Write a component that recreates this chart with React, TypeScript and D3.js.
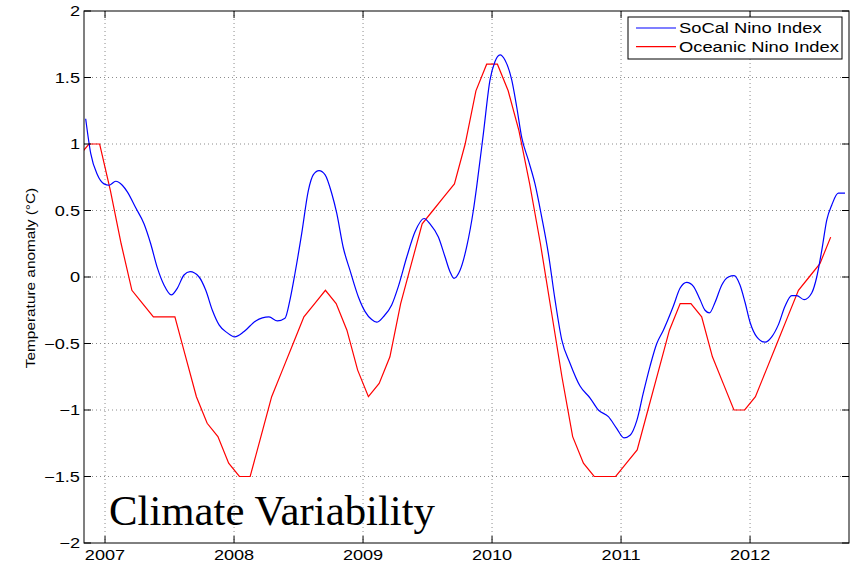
import * as d3 from "d3";

// SoCal Nino Index (smooth curve)
const socalDates = [
  2006.85, 2006.889, 2006.94, 2006.992, 2007.031, 2007.083, 2007.134, 2007.173, 2007.238, 2007.302,
  2007.354, 2007.405, 2007.457, 2007.514, 2007.56, 2007.612, 2007.659, 2007.729, 2007.781, 2007.832,
  2007.884, 2007.948, 2008.005, 2008.078, 2008.168, 2008.271, 2008.336, 2008.395, 2008.434, 2008.473,
  2008.525, 2008.576, 2008.615, 2008.659, 2008.705, 2008.757, 2008.796, 2008.847, 2008.899, 2008.964,
  2009.016, 2009.067, 2009.106, 2009.157, 2009.222, 2009.274, 2009.339, 2009.403, 2009.473, 2009.519,
  2009.584, 2009.636, 2009.674, 2009.705, 2009.752, 2009.804, 2009.855, 2009.881, 2009.933, 2009.984,
  2010.023, 2010.062, 2010.101, 2010.153, 2010.191, 2010.23, 2010.281, 2010.333, 2010.385, 2010.436,
  2010.488, 2010.54, 2010.605, 2010.682, 2010.76, 2010.824, 2010.902, 2010.967, 2011.023, 2011.07,
  2011.122, 2011.173, 2011.225, 2011.277, 2011.328, 2011.405, 2011.457, 2011.509, 2011.561, 2011.612,
  2011.651, 2011.685, 2011.729, 2011.781, 2011.832, 2011.876, 2011.922, 2011.961, 2012.0, 2012.052,
  2012.116, 2012.168, 2012.219, 2012.271, 2012.323, 2012.362, 2012.419, 2012.478, 2012.517, 2012.556,
  2012.595, 2012.633, 2012.684, 2012.736,
];
const socalValues = [
  1.19, 0.93, 0.77, 0.7, 0.69, 0.72, 0.69, 0.64, 0.52, 0.4,
  0.25, 0.07, -0.06, -0.135, -0.085, 0.015, 0.04, 0.0, -0.1, -0.25,
  -0.36, -0.42, -0.45, -0.41, -0.33, -0.3, -0.33, -0.31, -0.17, 0.03,
  0.33, 0.65, 0.77, 0.8, 0.77, 0.63, 0.48, 0.22, 0.05, -0.15,
  -0.26, -0.32, -0.34, -0.3, -0.21, -0.07, 0.15, 0.34, 0.44, 0.4,
  0.3, 0.15, 0.04, -0.01, 0.05, 0.23, 0.5, 0.68, 1.08, 1.48,
  1.62, 1.67, 1.63, 1.48, 1.28, 1.05, 0.88, 0.7, 0.45, 0.18,
  -0.17, -0.47, -0.65, -0.82, -0.91, -1.0, -1.05, -1.14, -1.21, -1.19,
  -1.08, -0.87, -0.67, -0.5, -0.4, -0.22, -0.085, -0.04, -0.07, -0.17,
  -0.25, -0.27, -0.19, -0.06, 0.0, 0.01, -0.06, -0.19, -0.34, -0.45,
  -0.49, -0.45, -0.36, -0.22, -0.14, -0.14, -0.17, -0.12, 0.0, 0.2,
  0.43, 0.54, 0.63, 0.63,
];

// Oceanic Nino Index, monthly from Oct 2006 to Jul 2012
const oniFirstMonth = { year: 2006, month: 10 };
const oniValues = [
  0.9, 1.0, 1.0, 0.65, 0.25, -0.1, -0.2, -0.3, -0.3, -0.3,
  -0.6, -0.9, -1.1, -1.2, -1.4, -1.5, -1.5, -1.2, -0.9, -0.7,
  -0.5, -0.3, -0.2, -0.1, -0.2, -0.4, -0.7, -0.9, -0.8, -0.6,
  -0.2, 0.1, 0.4, 0.5, 0.6, 0.7, 1.0, 1.4, 1.6, 1.6,
  1.4, 1.1, 0.7, 0.25, -0.25, -0.75, -1.2, -1.4, -1.5, -1.5,
  -1.5, -1.4, -1.3, -1.0, -0.7, -0.4, -0.2, -0.2, -0.3, -0.6,
  -0.8, -1.0, -1.0, -0.9, -0.7, -0.5, -0.3, -0.1, 0.0, 0.1,
  0.3,
];

const xTicks = [2007, 2008, 2009, 2010, 2011, 2012];
const yTicks = [-2, -1.5, -1, -0.5, 0, 0.5, 1, 1.5, 2];
const legendLabels = ["SoCal Nino Index", "Oceanic Nino Index"];
const seriesColors = ["#0000ff", "#ff0000"];

const fmtY = (v: number) => (v < 0 ? "\u2212" + String(-v) : String(v));

export default function App() {
  const W = 858;
  const H = 567;
  const left = 84;
  const right = 849;
  const top = 11;
  const bottom = 543;
  const tick = 7;
  const sans = '"Liberation Sans", Arial, Helvetica, sans-serif';

  const x = d3.scaleLinear().domain([2006.837, 2012.767]).range([left, right]);
  const y = d3.scaleLinear().domain([-2, 2]).range([bottom, top]);

  const socal = socalDates.map((d, i) => [d, socalValues[i]] as [number, number]);
  const oni = oniValues.map(
    (v, i) => [oniFirstMonth.year + (oniFirstMonth.month - 1 + i + 0.5) / 12, v] as [number, number]
  );

  const smooth = d3
    .line<[number, number]>()
    .x((d) => x(d[0]))
    .y((d) => y(d[1]))
    .curve(d3.curveMonotoneX);
  const straight = d3
    .line<[number, number]>()
    .x((d) => x(d[0]))
    .y((d) => y(d[1]));

  return (
    <svg
      width={W}
      height={H}
      style={{ position: "fixed", left: 0, top: 0, background: "white" }}
    >
      <defs>
        <clipPath id="plot">
          <rect x={left} y={top} width={right - left} height={bottom - top} />
        </clipPath>
      </defs>
      <rect x={0} y={0} width={W} height={H} fill="white" />

      {/* grid */}
      {xTicks.map((t) => (
        <line
          key={"gx" + t}
          x1={x(t)}
          x2={x(t)}
          y1={top}
          y2={bottom}
          stroke="#8c8c8c"
          strokeWidth={1}
          strokeDasharray="1,3"
        />
      ))}
      {yTicks.slice(1, -1).map((t) => (
        <line
          key={"gy" + t}
          x1={left}
          x2={right}
          y1={y(t)}
          y2={y(t)}
          stroke="#8c8c8c"
          strokeWidth={1}
          strokeDasharray="1,3"
        />
      ))}

      {/* data */}
      <g clipPath="url(#plot)" fill="none" strokeWidth={1.2}>
        <path d={straight(oni) ?? ""} stroke={seriesColors[1]} />
        <path d={smooth(socal) ?? ""} stroke={seriesColors[0]} />
      </g>

      {/* box and ticks */}
      <rect
        x={left}
        y={top}
        width={right - left}
        height={bottom - top}
        fill="none"
        stroke="#000"
        strokeWidth={1}
      />
      {xTicks.map((t) => (
        <g key={"tx" + t} stroke="#000">
          <line x1={x(t)} x2={x(t)} y1={bottom} y2={bottom - tick} />
          <line x1={x(t)} x2={x(t)} y1={top} y2={top + tick} />
        </g>
      ))}
      {yTicks.map((t) => (
        <g key={"ty" + t} stroke="#000">
          <line x1={left} x2={left + tick} y1={y(t)} y2={y(t)} />
          <line x1={right} x2={right - tick} y1={y(t)} y2={y(t)} />
        </g>
      ))}

      {/* tick labels */}
      {xTicks.map((t) => (
        <text
          key={"lx" + t}
          transform={`translate(${x(t)},560) scale(1.25,1)`}
          textAnchor="middle"
          fontFamily={sans}
          fontSize={14.5}
          fill="#000"
        >
          {t}
        </text>
      ))}
      {yTicks.map((t) => (
        <text
          key={"ly" + t}
          transform={`translate(80,${y(t) + 5}) scale(1.3,1)`}
          textAnchor="end"
          fontFamily={sans}
          fontSize={14}
          fill="#000"
        >
          {fmtY(t)}
        </text>
      ))}

      {/* y axis title */}
      <text
        transform={`translate(35,${(top + bottom) / 2 + 1}) rotate(-90) scale(1.23,1)`}
        textAnchor="middle"
        fontFamily={sans}
        fontSize={12.5}
        fill="#000"
      >
        Temperature anomaly (°C)
      </text>

      {/* legend */}
      <rect x={628} y={17} width={214} height={42} fill="white" stroke="#000" strokeWidth={1} />
      {legendLabels.map((lab, i) => (
        <g key={lab}>
          <line
            x1={636}
            x2={676}
            y1={28 + i * 18.7}
            y2={28 + i * 18.7}
            stroke={seriesColors[i]}
            strokeWidth={1.2}
          />
          <text
            transform={`translate(679,${33.3 + i * 19}) scale(1.31,1)`}
            fontFamily={sans}
            fontSize={14}
            fill="#000"
          >
            {lab}
          </text>
        </g>
      ))}

      {/* annotation */}
      <text
        x={109}
        y={525}
        fontFamily='"Liberation Serif", "Times New Roman", Times, serif'
        fontSize={42}
        textLength={326}
        lengthAdjust="spacingAndGlyphs"
        fill="#000"
      >
        Climate Variability
      </text>
    </svg>
  );
}
